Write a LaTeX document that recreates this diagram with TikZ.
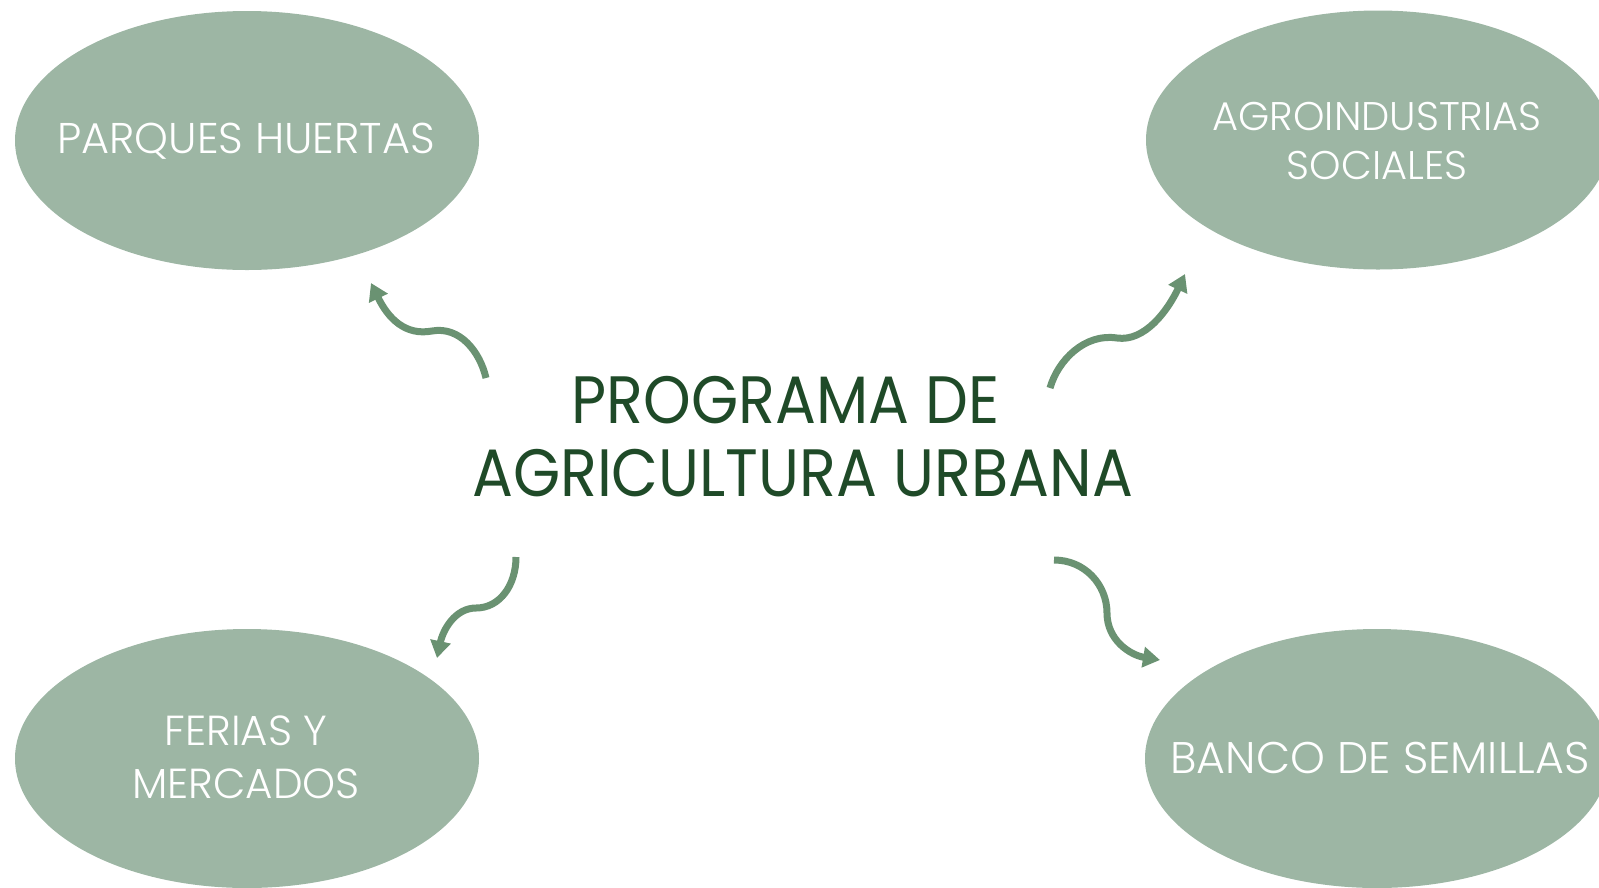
\documentclass[tikz,border=0pt]{standalone}
\usepackage{fontspec}
\setmainfont{Poppins}
\newfontfamily\lightfont{Poppins Light}
\newfontfamily\midfont[FakeStretch=0.905]{Poppins}
\usetikzlibrary{shapes.geometric,arrows.meta}
\definecolor{ellfill}{HTML}{9DB6A4}
\definecolor{darktxt}{HTML}{1F4A28}
\definecolor{arrowc}{HTML}{6A9272}
\tikzset{
  bubble/.style={ellipse, fill=ellfill, draw=none, minimum width=464pt, minimum height=259pt, inner sep=0pt},
  bubbletxt/.style={text=white, align=center, font=\lightfont\fontsize{43}{53}\selectfont},
  maintxt/.style={text=darktxt, align=center, font=\midfont\fontsize{67}{73}\selectfont},
  curvy/.style={draw=arrowc, line width=7pt, -{Triangle[width=20pt,length=17pt]}}
}
\begin{document}
\begin{tikzpicture}[x=1pt,y=-1pt]
\useasboundingbox (0,0) rectangle (1599,887);
\node[bubble] (e1) at (247,140.5) {};
\node[bubble] (e2) at (1378,140) {};
\node[bubble] (e3) at (247,758.5) {};
\node[bubble] (e4) at (1377,758.5) {};
\node[bubbletxt] (t1) at (246,141) {PARQUES HUERTAS};
\node[bubbletxt, font=\lightfont\fontsize{40}{49}\selectfont] (t2) at (1377,140.5) {AGROINDUSTRIAS\\SOCIALES};
\node[bubbletxt, font=\lightfont\fontsize{42}{53}\selectfont] (t3) at (246,757.5) {FERIAS Y\\MERCADOS};
\node[bubbletxt, font=\lightfont\fontsize{44.3}{53}\selectfont] (t4) at (1380,757.5) {BANCO DE SEMILLAS};
\node[maintxt] (c) at (802.5,437) {\mbox{PROGRAMA DE\kern34pt}\\AGRICULTURA URBANA};
% arrows
\coordinate (a1s) at (486,378);
\coordinate (a1m) at (432,331);
\coordinate (a1e) at (371,283);
\draw[curvy] (a1s) .. controls (480,352) and (460,326) .. (a1m) .. controls (405,336) and (388,318) .. (a1e);
\coordinate (a2s) at (1050,388);
\coordinate (a2m) at (1117,338);
\coordinate (a2e) at (1185,274);
\draw[curvy] (a2s) .. controls (1058,360) and (1085,333) .. (a2m) .. controls (1145,342) and (1168,310) .. (a2e);
\coordinate (a3s) at (516,557);
\coordinate (a3m) at (476,608);
\coordinate (a3e) at (437,658);
\draw[curvy] (a3s) .. controls (516,585) and (500,608) .. (a3m) .. controls (455,608) and (443,630) .. (a3e);
\coordinate (a4s) at (1054,560);
\coordinate (a4m) at (1107,613);
\coordinate (a4e) at (1160,660);
\draw[curvy] (a4s) .. controls (1085,560) and (1107,585) .. (a4m) .. controls (1107,640) and (1130,655) .. (a4e);
\end{tikzpicture}
\end{document}
